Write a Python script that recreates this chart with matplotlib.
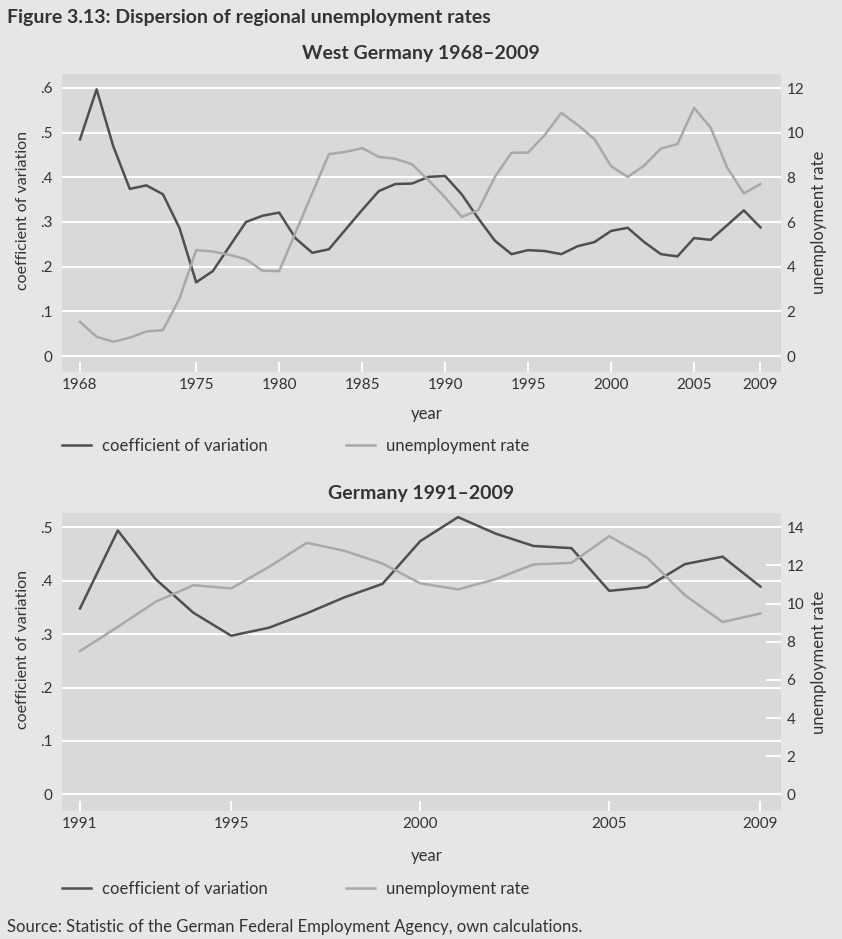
import matplotlib
matplotlib.use('Agg')
import matplotlib.pyplot as plt

plt.rcParams['font.family'] = ['Lato', 'DejaVu Sans']

# West Germany 1968-2009
west_years = list(range(1968, 2010))
west_cv = [0.485, 0.597, 0.470, 0.374, 0.382, 0.362, 0.286, 0.165, 0.190, 0.245,
           0.300, 0.314, 0.321, 0.263, 0.231, 0.239, 0.283, 0.327, 0.369, 0.385,
           0.386, 0.401, 0.403, 0.362, 0.308, 0.258, 0.228, 0.237, 0.235, 0.228,
           0.246, 0.255, 0.280, 0.287, 0.255, 0.228, 0.223, 0.264, 0.260, 0.293,
           0.326, 0.288]
west_ur = [1.53, 0.86, 0.64, 0.82, 1.10, 1.16, 2.58, 4.74, 4.68, 4.53,
           4.33, 3.82, 3.80, 5.55, 7.30, 9.04, 9.14, 9.31, 8.92, 8.83,
           8.59, 7.87, 7.10, 6.23, 6.53, 8.02, 9.10, 9.11, 9.89, 10.89,
           10.34, 9.71, 8.50, 8.02, 8.53, 9.29, 9.49, 11.11, 10.23, 8.43,
           7.28, 7.70]
west_xticks = [1968, 1975, 1980, 1985, 1990, 1995, 2000, 2005, 2009]
west_cv_ticks = [0, 0.1, 0.2, 0.3, 0.4, 0.5, 0.6]
west_cv_labels = ['0', '.1', '.2', '.3', '.4', '.5', '.6']
west_ur_ticks = [0, 2, 4, 6, 8, 10, 12]

# Germany 1991-2009
ger_years = list(range(1991, 2010))
ger_cv = [0.348, 0.494, 0.403, 0.340, 0.297, 0.312, 0.339, 0.369, 0.394, 0.474,
          0.519, 0.488, 0.465, 0.461, 0.381, 0.388, 0.431, 0.445, 0.389]
ger_ur = [7.51, 8.78, 10.09, 10.96, 10.79, 11.92, 13.18, 12.76, 12.10, 11.06,
          10.74, 11.28, 12.05, 12.13, 13.53, 12.41, 10.44, 9.03, 9.48]
ger_xticks = [1991, 1995, 2000, 2005, 2009]
ger_cv_ticks = [0, 0.1, 0.2, 0.3, 0.4, 0.5]
ger_cv_labels = ['0', '.1', '.2', '.3', '.4', '.5']
ger_ur_ticks = [0, 2, 4, 6, 8, 10, 12, 14]

W, H = 842, 939
outer_bg = '#e5e6e8'
inner_bg = '#d8d9db'
dark = '#4f4f4f'
light = '#a9a9a9'
txt = '#333333'

fig = plt.figure(figsize=(W / 100, H / 100), dpi=100, facecolor=outer_bg)


def panel(top, bottom, years, cv, ur, xticks, cv_ticks, cv_labels, ur_ticks,
          xlim, cv_lim, ur_lim, title, legend_y, year_y):
    ax = fig.add_axes([62 / W, (H - bottom) / H, 719 / W, (bottom - top) / H])
    ax.set_facecolor(inner_bg)
    ax2 = ax.twinx()
    l1, = ax.plot(years, cv, color=dark, lw=1.8, zorder=3)
    l2, = ax2.plot(years, ur, color=light, lw=1.8)
    ax.set_xlim(*xlim)
    ax.set_ylim(*cv_lim)
    ax2.set_ylim(*ur_lim)
    ax.set_xticks(xticks)
    ax.set_yticks(cv_ticks)
    ax.set_yticklabels(cv_labels)
    ax2.set_yticks(ur_ticks)
    for a in (ax, ax2):
        for s in a.spines.values():
            s.set_visible(False)
    ax.grid(axis='y', color='white', lw=1.5)
    ax.set_axisbelow(True)
    ax.tick_params(axis='y', length=0, pad=7, labelsize=11, labelcolor=txt)
    ax.tick_params(axis='x', direction='in', length=7, width=1.4, color='white',
                   pad=4.5, labelsize=11, labelcolor=txt)
    ax2.tick_params(axis='y', direction='in', length=10.8, width=1.4, color='white',
                    pad=4, labelsize=11, labelcolor=txt)

    mid = (top + bottom) / 2
    fig.text(421 / W, 1 - (top - 14) / H, title, ha='center', va='baseline',
             fontsize=14, fontweight='bold', color=txt)
    fig.text(23 / W, 1 - (mid - 12) / H, 'coefficient of variation', rotation=90,
             ha='center', va='center', fontsize=11.5, color=txt)
    fig.text(819 / W, 1 - mid / H, 'unemployment rate', rotation=90,
             ha='center', va='center', fontsize=12, color=txt)
    fig.text(427 / W, 1 - year_y / H, 'year', ha='center', va='center',
             fontsize=12, color=txt)
    fig.legend([l1, l2], ['coefficient of variation', 'unemployment rate'],
               loc='center left', bbox_to_anchor=(62 / W, 1 - legend_y / H),
               ncol=2, frameon=False, fontsize=12, borderpad=0, borderaxespad=0,
               handlelength=1.74, handletextpad=0.66, columnspacing=4.7,
               labelcolor=txt)


panel(73.5, 372, west_years, west_cv, west_ur, west_xticks, west_cv_ticks,
      west_cv_labels, west_ur_ticks, (1966.915, 2010.24), (-0.0358, 0.6324),
      (-0.716, 12.65), 'West Germany 1968\u20132009', 446, 414)
panel(512.7, 811, ger_years, ger_cv, ger_ur, ger_xticks, ger_cv_ticks,
      ger_cv_labels, ger_ur_ticks, (1990.524, 2009.545), (-0.0311, 0.5273),
      (-0.871, 14.76), 'Germany 1991\u20132009', 889, 856)

fig.text(7 / W, 1 - 17 / H, 'Figure 3.13: Dispersion of regional unemployment rates',
         ha='left', va='center', fontsize=14, fontweight='bold', color=txt)
fig.text(7 / W, 1 - 927 / H,
         'Source: Statistic of the German Federal Employment Agency, own calculations.',
         ha='left', va='center', fontsize=12, color=txt)

fig.savefig('out.png', dpi=100, facecolor=outer_bg)
